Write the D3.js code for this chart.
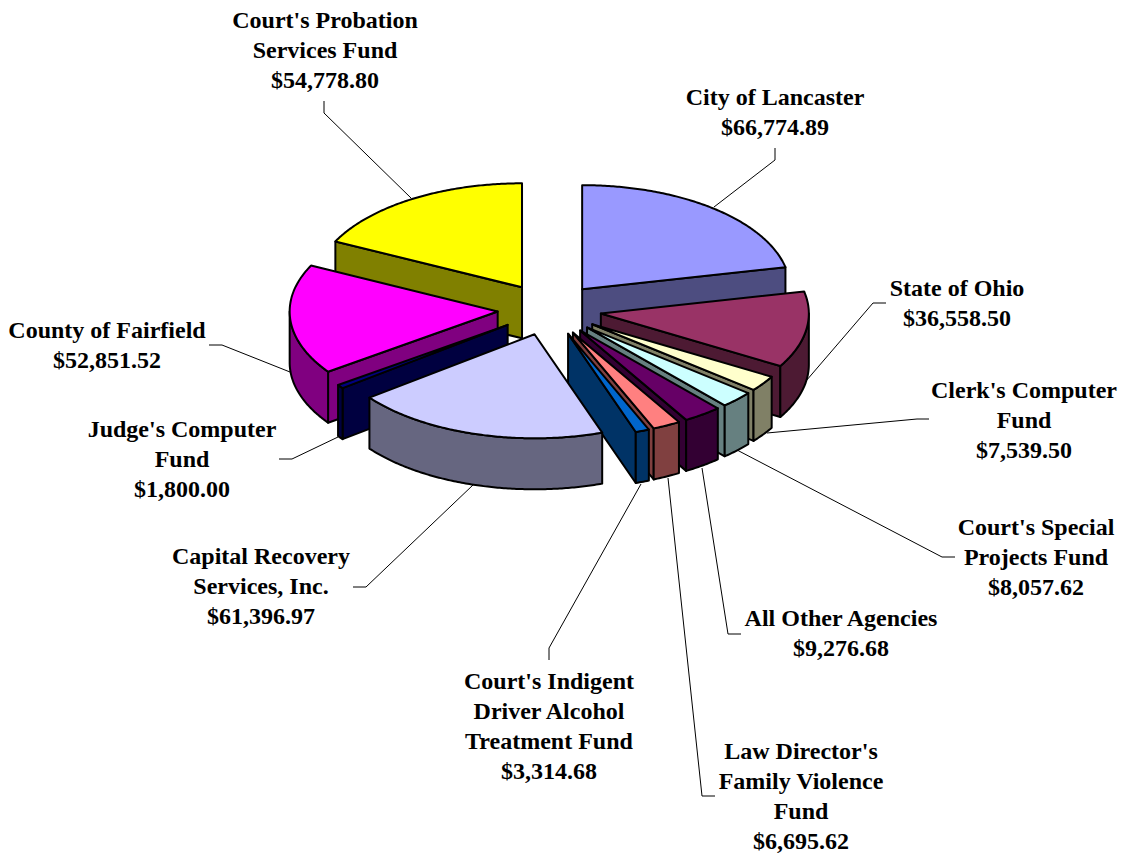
<!DOCTYPE html>
<html><head><meta charset="utf-8">
<script src="https://cdn.jsdelivr.net/npm/d3@7/dist/d3.min.js"></script>
<style>html,body{margin:0;padding:0;background:#fff}svg{display:block}
text{font-family:"Liberation Serif","Times New Roman",serif;font-weight:bold;font-size:24px;fill:#000;text-anchor:middle}</style>
</head><body><svg width="1123" height="855"></svg>
<script>
const categories = ["City of Lancaster","State of Ohio","Clerk's Computer Fund","Court's Special Projects Fund","All Other Agencies","Law Director's Family Violence Fund","Court's Indigent Driver Alcohol Treatment Fund","Capital Recovery Services, Inc.","Judge's Computer Fund","County of Fairfield","Court's Probation Services Fund"];
const values = [66774.89,36558.50,7539.50,8057.62,9276.68,6695.62,3314.68,61396.97,1800.00,52851.52,54778.80];
const labelLines = [["City of Lancaster"],["State of Ohio"],["Clerk's Computer","Fund"],["Court's Special","Projects Fund"],["All Other Agencies"],["Law Director's","Family Violence","Fund"],["Court's Indigent","Driver Alcohol","Treatment Fund"],["Capital Recovery","Services, Inc."],["Judge's Computer","Fund"],["County of Fairfield"],["Court's Probation","Services Fund"]];
const topColors = ["#9999ff","#993366","#ffffcc","#ccffff","#660066","#ff8080","#0066cc","#ccccff","#000080","#ff00ff","#ffff00"];
const sideColors = ["#4d4d80","#4d1a33","#808066","#668080","#330033","#804040","#003366","#666680","#000040","#800080","#808000"];
const paintOrder = [0,10,1,2,3,4,5,6,9,8,7];
const labelAnchors = [[775,97],[957,288],[1024,390],[1036,527],[841,618],[801,751],[549,681],[261,556],[182,429],[107,330],[325,20]];
const leaders = [
 [[775,148],[775,160],[714,207]],
 [[886,303],[873,303],[806,381]],
 [[929,419],[917,419],[767,433]],
 [[955,557],[942,557],[737,450]],
 [[741,634],[728,634],[702,468]],
 [[715,796],[702,796],[668,478]],
 [[549,660],[549,648],[641,484]],
 [[353,587],[366,587],[473,485]],
 [[279,459],[292,459],[338,437]],
 [[209,345],[222,345],[290,372]],
 [[324,101],[324,113],[411,198]]
];

const svg = d3.select("svg");
const fmt = d3.format("$,.2f");
const cx = 549.5, cy = 309.4, rx = 208, ry = 104, depth = 51, explode = 52;
const sx = d3.scaleLinear().domain([-1,1]).range([cx-rx,cx+rx]);
const sy = d3.scaleLinear().domain([-1,1]).range([cy-ry,cy+ry]);
const pie = d3.pie().sort(null).startAngle(0).endAngle(2*Math.PI);
const arcs = pie(values);
const line = d3.line();

svg.append("g").selectAll("path").data(leaders).join("path")
  .attr("d", d=>line(d)).attr("fill","none").attr("stroke","#000").attr("stroke-width",1);

function slice(d){
  const mid=(d.startAngle+d.endAngle)/2, e=explode/rx;
  const ox=e*Math.sin(mid), oy=-e*Math.cos(mid);
  const P=(a,r=1,z=0)=>[sx(ox+r*Math.sin(a)), sy(oy-r*Math.cos(a))+z];
  const arcPts=(a0,a1,z)=>{const n=Math.max(2,Math.ceil((a1-a0)/0.01));
    return d3.range(n+1).map(i=>P(a0+(a1-a0)*i/n,1,z));};
  return {P,arcPts};
}
const g = svg.append("g");
paintOrder.forEach(i=>{
  const d=arcs[i], {P,arcPts}=slice(d), a0=d.startAngle, a1=d.endAngle;
  const sl=g.append("g").attr("stroke","#000").attr("stroke-width",2).attr("stroke-linejoin","round");
  const poly=(pts,fill)=>sl.append("path").attr("d",line(pts)+"Z").attr("fill",fill);
  if(-Math.sin(a0)>1e-6) poly([P(0,0),P(a0),P(a0,1,depth),P(0,0,depth)],sideColors[i]);
  if(Math.sin(a1)>1e-6) poly([P(0,0),P(a1),P(a1,1,depth),P(0,0,depth)],sideColors[i]);
  const w0=Math.max(a0,Math.PI/2), w1=Math.min(a1,3*Math.PI/2);
  if(w1>w0) poly(arcPts(w0,w1,0).concat(arcPts(w0,w1,depth).reverse()),sideColors[i]);
  poly([P(0,0)].concat(arcPts(a0,a1,0)),topColors[i]);
});

const lh=30.3;
values.forEach((v,i)=>{
  const lines=labelLines[i].concat([fmt(v)]);
  const t=svg.append("text").attr("x",labelAnchors[i][0]).attr("y",labelAnchors[i][1]+7.5);
  lines.forEach((s,k)=>t.append("tspan").attr("x",labelAnchors[i][0]).attr("dy",k?lh:0).text(s));
});
</script></body></html>
